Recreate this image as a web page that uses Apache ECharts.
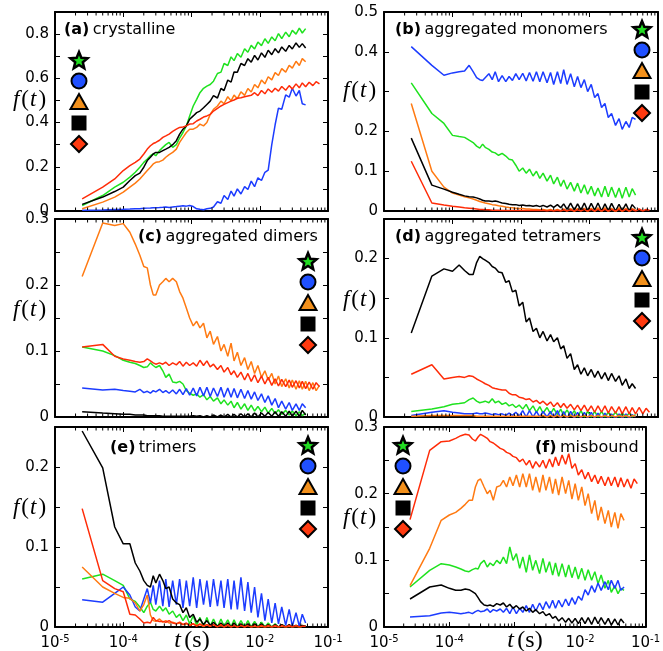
<!DOCTYPE html>
<html><head><meta charset="utf-8">
<script src="https://cdn.jsdelivr.net/npm/echarts@6/dist/echarts.min.js"></script>
<style>html,body{margin:0;padding:0;background:#fff}#c{width:663px;height:651px}</style>
</head><body><div id="c"></div>
<script>
// time samples (s)
const t = [2.5e-5,5e-5,7.5e-5,1e-4,1.25e-4,1.5e-4,1.75e-4,2e-4,2.25e-4,2.5e-4,2.75e-4,3e-4,3.4e-4,3.8e-4,4.2e-4,4.7e-4,5.3e-4,6e-4,6.7e-4,7.5e-4,8.4e-4,9.4e-4,1.06e-3,1.19e-3,1.33e-3,1.5e-3,1.68e-3,1.88e-3,2.1e-3,2.4e-3,2.7e-3,3e-3,3.4e-3,3.8e-3,4.2e-3,4.7e-3,5.3e-3,6e-3,6.7e-3,7.5e-3,8.4e-3,9.4e-3,1.06e-2,1.19e-2,1.33e-2,1.5e-2,1.68e-2,1.88e-2,2.1e-2,2.4e-2,2.7e-2,3e-2,3.4e-2,3.8e-2,4.2e-2,4.7e-2,5.3e-2,6e-2,6.7e-2,7.5e-2];

const xTickLabels = [1e-5,1e-4,1e-3,1e-2,1e-1];

// (a) crystalline
const aGreen = [0.025,0.07,0.108,0.13,0.153,0.175,0.198,0.22,0.235,0.25,0.258,0.25,0.273,0.288,0.3,0.31,0.288,0.3,0.33,0.355,0.385,0.43,0.475,0.505,0.535,0.555,0.565,0.572,0.587,0.622,0.628,0.667,0.658,0.697,0.68,0.712,0.695,0.734,0.718,0.749,0.733,0.764,0.748,0.779,0.758,0.787,0.77,0.802,0.78,0.809,0.788,0.817,0.8,0.827,0.805,0.825];
const aBlue = [0.003,0.005,0.007,0.008,0.009,0.01,0.01,0.012,0.013,0.014,0.015,0.015,0.016,0.017,0.018,0.016,0.018,0.02,0.022,0.024,0.022,0.025,0.02,0.01,0.008,0.006,0.01,0.012,0.018,0.042,0.035,0.07,0.052,0.09,0.067,0.1,0.077,0.11,0.097,0.135,0.11,0.15,0.138,0.175,0.185,0.3,0.39,0.465,0.46,0.525,0.515,0.555,0.52,0.545,0.485,0.48];
const aOrange = [0.01,0.04,0.063,0.085,0.108,0.126,0.145,0.165,0.183,0.198,0.213,0.22,0.223,0.23,0.243,0.255,0.265,0.28,0.31,0.333,0.355,0.37,0.37,0.378,0.393,0.385,0.4,0.437,0.46,0.475,0.497,0.485,0.517,0.498,0.524,0.508,0.539,0.523,0.554,0.538,0.572,0.557,0.592,0.575,0.607,0.593,0.626,0.613,0.644,0.628,0.659,0.646,0.677,0.658,0.689,0.675];
const aBlack = [0.03,0.063,0.088,0.108,0.138,0.16,0.171,0.198,0.228,0.243,0.258,0.265,0.265,0.273,0.28,0.288,0.3,0.318,0.348,0.37,0.385,0.415,0.43,0.445,0.452,0.467,0.482,0.497,0.522,0.511,0.554,0.545,0.592,0.583,0.629,0.628,0.667,0.658,0.689,0.673,0.704,0.683,0.715,0.695,0.727,0.707,0.734,0.715,0.742,0.722,0.749,0.733,0.76,0.74,0.757,0.737];
const aRed = [0.055,0.108,0.145,0.183,0.205,0.22,0.235,0.258,0.28,0.295,0.305,0.31,0.32,0.333,0.34,0.348,0.36,0.37,0.378,0.38,0.385,0.393,0.395,0.407,0.415,0.425,0.43,0.437,0.452,0.464,0.475,0.482,0.49,0.497,0.502,0.51,0.512,0.517,0.52,0.523,0.535,0.522,0.545,0.53,0.552,0.537,0.555,0.542,0.563,0.546,0.567,0.552,0.575,0.557,0.579,0.562,0.582,0.567,0.585,0.575];

// (b) aggregated monomers
const bGreen = [0.322,0.245,0.22,0.19,0.187,0.185,0.178,0.172,0.163,0.158,0.168,0.16,0.155,0.148,0.146,0.14,0.145,0.138,0.13,0.128,0.115,0.1,0.108,0.095,0.105,0.088,0.1,0.082,0.095,0.075,0.09,0.068,0.085,0.062,0.078,0.055,0.072,0.05,0.07,0.045,0.066,0.042,0.062,0.038,0.058,0.035,0.062,0.036,0.06,0.034,0.058,0.032,0.06,0.035,0.056,0.04];
const bBlue = [0.413,0.366,0.341,0.347,0.35,0.352,0.366,0.35,0.335,0.33,0.328,0.335,0.345,0.33,0.35,0.325,0.34,0.325,0.338,0.328,0.345,0.33,0.346,0.327,0.348,0.326,0.35,0.325,0.35,0.322,0.348,0.318,0.35,0.32,0.355,0.318,0.345,0.312,0.338,0.31,0.33,0.3,0.318,0.285,0.295,0.26,0.27,0.235,0.245,0.215,0.232,0.205,0.225,0.21,0.235,0.23];
const bOrange = [0.27,0.1,0.06,0.045,0.04,0.036,0.033,0.03,0.027,0.024,0.022,0.02,0.018,0.016,0.015,0.013,0.012,0.01,0.009,0.008,0.007,0.006,0.006,0.005,0.005,0.004,0.004,0.003,0.004,0.002,0.004,0.001,0.004,0.001,0.005,0,0.006,-0.001,0.006,0,0.007,-0.002,0.007,-0.001,0.008,-0.002,0.008,-0.002,0.007,-0.003,0.008,-0.002,0.007,-0.002,0.006,0.002];
const bBlack = [0.183,0.065,0.055,0.047,0.042,0.038,0.036,0.035,0.033,0.03,0.027,0.025,0.025,0.024,0.025,0.023,0.02,0.019,0.017,0.016,0.016,0.014,0.015,0.013,0.014,0.012,0.014,0.011,0.014,0.01,0.015,0.009,0.016,0.008,0.018,0.004,0.02,0.002,0.018,0.003,0.02,0.001,0.019,0.002,0.02,0,0.018,0.001,0.019,0,0.017,0.001,0.018,0,0.016,0.006];
const bRed = [0.125,0.02,0.015,0.012,0.01,0.008,0.007,0.006,0.005,0.004,0.004,0.003,0.003,0.002,0.002,0.002,0.001,0.001,0.001,0.001,0.001,0.001,0.001,0.001,0.001,0.001,0.001,0.001,0.002,0,0.002,0,0.002,0,0.003,0,0.003,0,0.003,0,0.004,0,0.004,0,0.004,0,0.004,0,0.004,0,0.004,0,0.004,0,0.004,0,0.005,0,0.004,0.002];

// (c) aggregated dimers
const cGreen = [0.106,0.1,0.093,0.086,0.083,0.081,0.078,0.075,0.076,0.082,0.078,0.075,0.078,0.07,0.06,0.065,0.053,0.052,0.054,0.05,0.04,0.036,0.033,0.035,0.03,0.034,0.026,0.031,0.024,0.029,0.02,0.026,0.018,0.024,0.014,0.022,0.012,0.02,0.01,0.018,0.009,0.016,0.008,0.015,0.006,0.013,0.005,0.011,0.004,0.01,0.003,0.009,0.002,0.008,0.002,0.006];
const cBlue = [0.044,0.041,0.042,0.04,0.039,0.038,0.042,0.037,0.039,0.036,0.04,0.038,0.042,0.037,0.04,0.036,0.041,0.035,0.042,0.034,0.043,0.033,0.044,0.032,0.045,0.032,0.045,0.031,0.044,0.031,0.045,0.03,0.044,0.03,0.043,0.029,0.042,0.028,0.04,0.027,0.038,0.025,0.035,0.022,0.032,0.018,0.028,0.014,0.024,0.012,0.022,0.01,0.02,0.01,0.02,0.014];
const cOrange = [0.213,0.294,0.29,0.293,0.28,0.262,0.245,0.228,0.226,0.2,0.185,0.185,0.2,0.205,0.21,0.205,0.21,0.205,0.19,0.18,0.165,0.15,0.138,0.145,0.135,0.142,0.12,0.13,0.11,0.122,0.1,0.11,0.092,0.112,0.085,0.098,0.078,0.09,0.072,0.084,0.066,0.078,0.06,0.07,0.056,0.066,0.05,0.062,0.046,0.058,0.044,0.056,0.042,0.055,0.042,0.054,0.04,0.052,0.04,0.048];
const cBlack = [0.008,0.006,0.005,0.004,0.004,0.003,0.003,0.003,0.002,0.002,0.002,0.002,0.002,0.001,0.001,0.001,0.001,0.001,0.001,0.001,0.001,0.001,0.002,0.001,0.002,0,0.002,0,0.003,0,0.003,0,0.004,0,0.004,0,0.005,0,0.005,0,0.006,0,0.006,0.001,0.007,0.001,0.008,0.001,0.008,0.001,0.009,0.001,0.009,0.001,0.01,0.003];
const cRed = [0.106,0.11,0.092,0.088,0.086,0.084,0.083,0.084,0.088,0.085,0.082,0.08,0.082,0.08,0.083,0.078,0.082,0.079,0.084,0.077,0.083,0.078,0.082,0.077,0.086,0.078,0.085,0.076,0.08,0.072,0.078,0.068,0.075,0.064,0.07,0.06,0.068,0.056,0.066,0.054,0.064,0.052,0.062,0.05,0.06,0.048,0.058,0.047,0.057,0.046,0.056,0.045,0.055,0.044,0.054,0.043,0.053,0.042,0.052,0.046];

// (d) aggregated tetramers
const dGreen = [0.007,0.01,0.013,0.016,0.017,0.018,0.022,0.024,0.02,0.018,0.019,0.02,0.018,0.023,0.018,0.02,0.016,0.018,0.014,0.016,0.012,0.015,0.01,0.016,0.008,0.014,0.006,0.013,0.005,0.012,0.004,0.011,0.003,0.01,0.002,0.009,0.001,0.008,0,0.008,0,0.007,0,0.007,0,0.007,0,0.006,0,0.006,0,0.005,0,0.005,0,0.003];
const dBlue = [0.002,0.006,0.008,0.006,0.005,0.004,0.004,0.004,0.005,0.004,0.004,0.005,0.004,0.003,0.004,0.003,0.004,0.002,0.005,0.002,0.006,0.001,0.008,0,0.008,0,0.007,0,0.007,0,0.007,-0.001,0.008,-0.002,0.007,-0.002,0.007,-0.002,0.006,-0.002,0.006,-0.002,0.006,-0.002,0.005,-0.003,0.005,-0.003,0.004,-0.003,0.004,-0.003,0.004,-0.003,0.003,0];
const dOrange = [0.001,0.002,0.002,0.002,0.002,0.002,0.002,0.002,0.001,0.001,0.001,0.001,0.001,0.001,0.001,0.001,0.001,0.001,0.001,0.001,0.001,0.001,0.001,0.001,0.001,0.001,0.001,0.001,0.002,0,0.002,0,0.002,0,0.002,0,0.002,0,0.002,0,0.002,0,0.002,0,0.002,0,0.002,0,0.002,0,0.002,0,0.002,0,0.002,0.001];
const dBlack = [0.106,0.178,0.187,0.184,0.192,0.185,0.18,0.18,0.195,0.203,0.2,0.198,0.195,0.19,0.188,0.183,0.182,0.17,0.172,0.158,0.16,0.14,0.145,0.12,0.125,0.108,0.112,0.1,0.108,0.096,0.104,0.095,0.1,0.086,0.09,0.074,0.08,0.06,0.066,0.054,0.062,0.052,0.06,0.05,0.058,0.048,0.056,0.046,0.055,0.045,0.052,0.04,0.048,0.036,0.042,0.036];
const dRed = [0.054,0.066,0.048,0.05,0.051,0.05,0.052,0.051,0.048,0.046,0.044,0.042,0.04,0.037,0.036,0.035,0.034,0.034,0.03,0.028,0.028,0.025,0.024,0.022,0.023,0.019,0.021,0.017,0.02,0.015,0.019,0.013,0.018,0.012,0.017,0.011,0.016,0.009,0.015,0.008,0.015,0.007,0.014,0.006,0.014,0.006,0.014,0.005,0.013,0.005,0.013,0.004,0.013,0.004,0.012,0.004,0.012,0.004,0.011,0.006];

// (e) trimers
const eGreen = [0.06,0.066,0.058,0.052,0.035,0.032,0.025,0.018,0.026,0.031,0.022,0.02,0.026,0.02,0.024,0.016,0.02,0.012,0.016,0.008,0.015,0.004,0.014,0.002,0.012,0,0.012,0.001,0.01,0,0.01,0.001,0.009,0,0.009,0,0.008,0,0.008,0,0.007,0,0.006,0,0.005,0,0.004,0,0.003,0,0.002,0,0.002,0,0.001,0.001];
const eBlue = [0.034,0.031,0.042,0.05,0.04,0.025,0.02,0.035,0.048,0.03,0.052,0.028,0.058,0.026,0.06,0.025,0.058,0.028,0.06,0.024,0.058,0.026,0.062,0.024,0.06,0.028,0.058,0.025,0.06,0.026,0.058,0.024,0.06,0.022,0.058,0.022,0.062,0.02,0.056,0.018,0.05,0.012,0.042,0.008,0.035,0.005,0.03,0.004,0.025,0.002,0.022,0.001,0.018,0.001,0.016,0.005];
const eOrange = [0.075,0.05,0.042,0.037,0.036,0.03,0.02,0.028,0.04,0.015,0.008,0.007,0.01,0.006,0.008,0.005,0.006,0.004,0.005,0.003,0.004,0.002,0.004,0.002,0.003,0.001,0.003,0.001,0.003,0.001,0.002,0,0.002,0,0.002,0,0.002,0,0.002,0,0.001,0,0.001,0,0.001,0,0.001,0,0.001,0,0.001,0,0.001,0,0.001,0.001];
const eBlack = [0.245,0.199,0.125,0.104,0.104,0.08,0.07,0.058,0.052,0.05,0.064,0.055,0.066,0.058,0.048,0.05,0.035,0.03,0.028,0.018,0.024,0.012,0.016,0.006,0.01,0.003,0.008,0.002,0.006,0.001,0.005,0,0.005,0,0.005,0,0.004,0,0.004,0,0.004,0,0.004,0,0.003,0,0.003,0,0.003,0,0.003,0,0.002,0,0.002,0.001];
const eRed = [0.148,0.058,0.048,0.044,0.016,0.015,0.01,0.005,0.006,0.005,0.012,0.008,0.007,0.007,0.006,0.008,0.005,0.004,0.006,0.003,0.005,0.002,0.004,0.001,0.004,0.001,0.003,0.001,0.003,0,0.003,0,0.003,0,0.002,0,0.002,0,0.002,0,0.002,0,0.002,0,0.002,0,0.002,0,0.002,0,0.002,0,0.002,0,0.001,0.001];

// (f) misbound
const fGreen = [0.06,0.085,0.095,0.093,0.09,0.087,0.084,0.083,0.086,0.088,0.087,0.095,0.1,0.09,0.096,0.092,0.1,0.095,0.105,0.095,0.12,0.1,0.11,0.088,0.105,0.082,0.108,0.085,0.1,0.08,0.103,0.082,0.098,0.078,0.096,0.076,0.095,0.075,0.093,0.074,0.09,0.072,0.088,0.07,0.086,0.07,0.083,0.065,0.078,0.058,0.07,0.052,0.062,0.05,0.058,0.055];
const fBlue = [0.015,0.017,0.021,0.022,0.021,0.02,0.021,0.022,0.02,0.023,0.025,0.023,0.024,0.027,0.022,0.026,0.024,0.027,0.022,0.028,0.02,0.03,0.02,0.028,0.022,0.032,0.022,0.034,0.024,0.036,0.026,0.038,0.028,0.04,0.028,0.04,0.03,0.042,0.032,0.044,0.034,0.046,0.04,0.056,0.048,0.062,0.052,0.066,0.055,0.068,0.056,0.07,0.058,0.07,0.055,0.06];
const fOrange = [0.062,0.118,0.16,0.168,0.172,0.178,0.184,0.19,0.19,0.21,0.22,0.222,0.21,0.2,0.205,0.19,0.21,0.212,0.22,0.21,0.225,0.212,0.228,0.21,0.23,0.21,0.23,0.205,0.225,0.202,0.228,0.205,0.225,0.2,0.222,0.198,0.225,0.2,0.22,0.192,0.215,0.19,0.21,0.182,0.2,0.17,0.19,0.16,0.18,0.155,0.175,0.15,0.172,0.148,0.17,0.16];
const fBlack = [0.042,0.06,0.063,0.058,0.055,0.055,0.057,0.056,0.053,0.05,0.044,0.038,0.033,0.032,0.033,0.031,0.035,0.033,0.036,0.03,0.034,0.028,0.032,0.027,0.03,0.024,0.028,0.022,0.026,0.02,0.023,0.017,0.02,0.013,0.016,0.009,0.014,0.007,0.013,0.006,0.013,0.005,0.014,0.005,0.014,0.004,0.015,0.005,0.014,0.004,0.013,0.003,0.012,0.003,0.012,0.006];
const fRed = [0.161,0.265,0.278,0.279,0.283,0.287,0.289,0.288,0.282,0.279,0.285,0.289,0.286,0.283,0.278,0.276,0.272,0.268,0.266,0.262,0.26,0.256,0.254,0.248,0.252,0.243,0.25,0.238,0.248,0.24,0.25,0.238,0.252,0.24,0.255,0.242,0.258,0.244,0.26,0.238,0.245,0.228,0.236,0.222,0.232,0.218,0.228,0.215,0.226,0.212,0.225,0.212,0.225,0.21,0.224,0.21,0.222,0.208,0.222,0.215];

const panelTitles = ['(a)','(b)','(c)','(d)','(e)','(f)'];
const panelNames = ['crystalline','aggregated monomers','aggregated dimers','aggregated tetramers','trimers','misbound'];

// ---------- styling / layout ----------
const COL = {green:'#1fe21f', blue:'#1c3cff', orange:'#ff7a12', black:'#000000', red:'#ff2c08'};
const LEG = {green:'#22dd22', blue:'#2050ff', orange:'#f2901c', black:'#000000', red:'#ff3a10'};
const SANS = 'DejaVu Sans';
const SERIF = 'Liberation Serif';

const layout = [
  {left:55, top:12, width:273, height:199, ymax:0.9, yint:0.1, data:[aGreen,aBlue,aOrange,aBlack,aRed], leg:[79,60], tt:[64,30], ft:[29,100], bottom:false, lab:v=>Math.round(v*10)%2===0},
  {left:384, top:12, width:274, height:199, ymax:0.5, yint:0.1, data:[bGreen,bBlue,bOrange,bBlack,bRed], leg:[642,29], tt:[395,30], ft:[359,91], bottom:false, lab:v=>Math.round(v*10)!==3},
  {left:55, top:219, width:273, height:198, ymax:0.3, yint:0.05, data:[cGreen,cBlue,cOrange,cBlack,cRed], leg:[308,261], tt:[138,237], ft:[29,310], bottom:false, lab:v=>Math.round(v*100)%10===0},
  {left:384, top:219, width:274, height:198, ymax:0.25, yint:0.05, data:[dGreen,dBlue,dOrange,dBlack,dRed], leg:[642,237], tt:[395,237], ft:[359,300], bottom:false, lab:v=>Math.round(v*100)%10===0},
  {left:55, top:427, width:273, height:200, ymax:0.25, yint:0.05, data:[eGreen,eBlue,eOrange,eBlack,eRed], leg:[308,445], tt:[110,448], ft:[29,508], bottom:true, lab:v=>Math.round(v*100)%10===0},
  {left:384, top:427, width:274, height:200, ymax:0.3, yint:0.05, data:[fGreen,fBlue,fOrange,fBlack,fRed], leg:[403,445], tt:[535,448], ft:[359,518], bottom:true, lab:v=>Math.round(v*100)%10===0}
];
const colorOrder = ['green','blue','orange','black','red'];

const minorTicks = [];
for (let e = -5; e <= -2; e++) for (let m = 2; m <= 9; m++) minorTicks.push(m * Math.pow(10, e));

const grids = [], xAxes = [], yAxes = [], series = [], graphics = [];

layout.forEach((p, i) => {
  grids.push({left:p.left, top:p.top, width:p.width, height:p.height, show:false});
  const xBase = {type:'log', logBase:10, gridIndex:i, min:1e-5, max:1e-1,
    axisLine:{show:true, onZero:false, lineStyle:{color:'#000', width:2}},
    axisTick:{show:true, inside:true, length:5, lineStyle:{color:'#000', width:1}},
    splitLine:{show:false}};
  xAxes.push(Object.assign({}, xBase, {position:'bottom',
    axisLabel:{show:p.bottom, margin:7, color:'#000',
      formatter:function(v){ const ex = Math.round(Math.log10(v)); if (ex === -3) return ''; return '{b|10}{s|' + ex + '}'; },
      rich:{b:{fontFamily:SANS, fontSize:15, color:'#000'}, s:{fontFamily:SANS, fontSize:10, color:'#000', verticalAlign:'top', padding:[0,0,9,0]}}}}));
  xAxes.push(Object.assign({}, xBase, {position:'top', axisLabel:{show:false}}));
  const yBase = {type:'value', gridIndex:i, min:0, max:p.ymax, interval:p.yint,
    axisLine:{show:true, onZero:false, lineStyle:{color:'#000', width:2}},
    axisTick:{show:true, inside:true, length:5, lineStyle:{color:'#000', width:1}},
    splitLine:{show:false}};
  yAxes.push(Object.assign({}, yBase, {position:'left',
    axisLabel:{show:true, margin:6, color:'#000', fontFamily:SANS, fontSize:15,
      formatter:function(v){ if (!p.lab(v) || v > p.ymax - 1e-9 && Math.round(v*100)%10!==0) return ''; return v === 0 ? '0' : v.toFixed(1); }}}));
  yAxes.push(Object.assign({}, yBase, {position:'right', axisLabel:{show:false}}));

  p.data.forEach((arr, k) => {
    const pts = [];
    for (let j = 0; j < arr.length; j++) if (arr[j] !== null) pts.push([t[j], arr[j]]);
    series.push({type:'line', xAxisIndex:2*i, yAxisIndex:2*i, data:pts, showSymbol:false, symbol:'none',
      lineStyle:{color:COL[colorOrder[k]], width:1.5}, itemStyle:{color:COL[colorOrder[k]]},
      animation:false, silent:true, clip:true, z:2+k});
  });

  const ymax = p.ymax;
  series.push({type:'custom', xAxisIndex:2*i, yAxisIndex:2*i, silent:true, animation:false, clip:false, z:20,
    data:minorTicks.map(v => [v, 0]), encode:{x:0, y:1},
    renderItem:function(params, api){
      const v = api.value(0);
      const b = api.coord([v, 0]);
      const tp = api.coord([v, ymax]);
      return {type:'group', children:[
        {type:'line', shape:{x1:b[0], y1:b[1]-1, x2:b[0], y2:b[1]-3.5}, style:{stroke:'#000', lineWidth:1}},
        {type:'line', shape:{x1:tp[0], y1:tp[1]+1, x2:tp[0], y2:tp[1]+3.5}, style:{stroke:'#000', lineWidth:1}}
      ]};
    }});

  // title
  graphics.push({type:'text', x:p.tt[0], y:p.tt[1], z:100, silent:true,
    style:{text:'{b|' + panelTitles[i] + '} {n|' + panelNames[i] + '}', verticalAlign:'middle', align:'left',
      rich:{b:{fontFamily:SANS, fontSize:16, fontWeight:'bold', fill:'#000'}, n:{fontFamily:SANS, fontSize:16, fill:'#000'}}}});
  // f(t)
  graphics.push({type:'text', x:p.ft[0], y:p.ft[1], z:100, silent:true,
    style:{text:'{i|f}{r|(}{i|t}{r|)}', verticalAlign:'middle', align:'center',
      rich:{i:{fontFamily:SERIF, fontStyle:'italic', fontSize:23, fill:'#000', padding:[0,2,0,1]}, r:{fontFamily:SERIF, fontSize:23, fill:'#000'}}}});
  // legend icons
  const cx = p.leg[0], cy = p.leg[1], sp = 21;
  const star = [];
  for (let s = 0; s < 10; s++) {
    const ang = -Math.PI/2 + s*Math.PI/5;
    const r = s % 2 === 0 ? 9 : 4;
    star.push([cx + r*Math.cos(ang), cy + 1 + r*Math.sin(ang)]);
  }
  graphics.push({type:'polygon', z:100, silent:true, shape:{points:star}, style:{fill:LEG.green, stroke:'#000', lineWidth:2.5, lineJoin:'miter'}});
  graphics.push({type:'circle', z:100, silent:true, shape:{cx:cx, cy:cy+sp, r:7.5}, style:{fill:LEG.blue, stroke:'#000', lineWidth:2}});
  const ty = cy + 2*sp;
  graphics.push({type:'polygon', z:100, silent:true, shape:{points:[[cx,ty-8],[cx+8.5,ty+7],[cx-8.5,ty+7]]}, style:{fill:LEG.orange, stroke:'#000', lineWidth:2}});
  const sy = cy + 3*sp;
  graphics.push({type:'rect', z:100, silent:true, shape:{x:cx-7.5, y:sy-7.5, width:15, height:15}, style:{fill:'#000'}});
  const dy = cy + 4*sp;
  graphics.push({type:'polygon', z:100, silent:true, shape:{points:[[cx,dy-8],[cx+8,dy],[cx,dy+8],[cx-8,dy]]}, style:{fill:LEG.red, stroke:'#000', lineWidth:2}});
});

// t (s) labels
[192, 525].forEach(x => {
  graphics.push({type:'text', x:x, y:641, z:100, silent:true,
    style:{text:'{i|t} {r|(s)}', verticalAlign:'middle', align:'center',
      rich:{i:{fontFamily:SERIF, fontStyle:'italic', fontSize:24, fill:'#000'}, r:{fontFamily:SERIF, fontSize:24, fill:'#000'}}}});
});

const chart = echarts.init(document.getElementById('c'), null, {renderer:'canvas'});
chart.setOption({
  animation:false,
  backgroundColor:'#ffffff',
  grid:grids, xAxis:xAxes, yAxis:yAxes, series:series, graphic:graphics
});
</script>
</body></html>
